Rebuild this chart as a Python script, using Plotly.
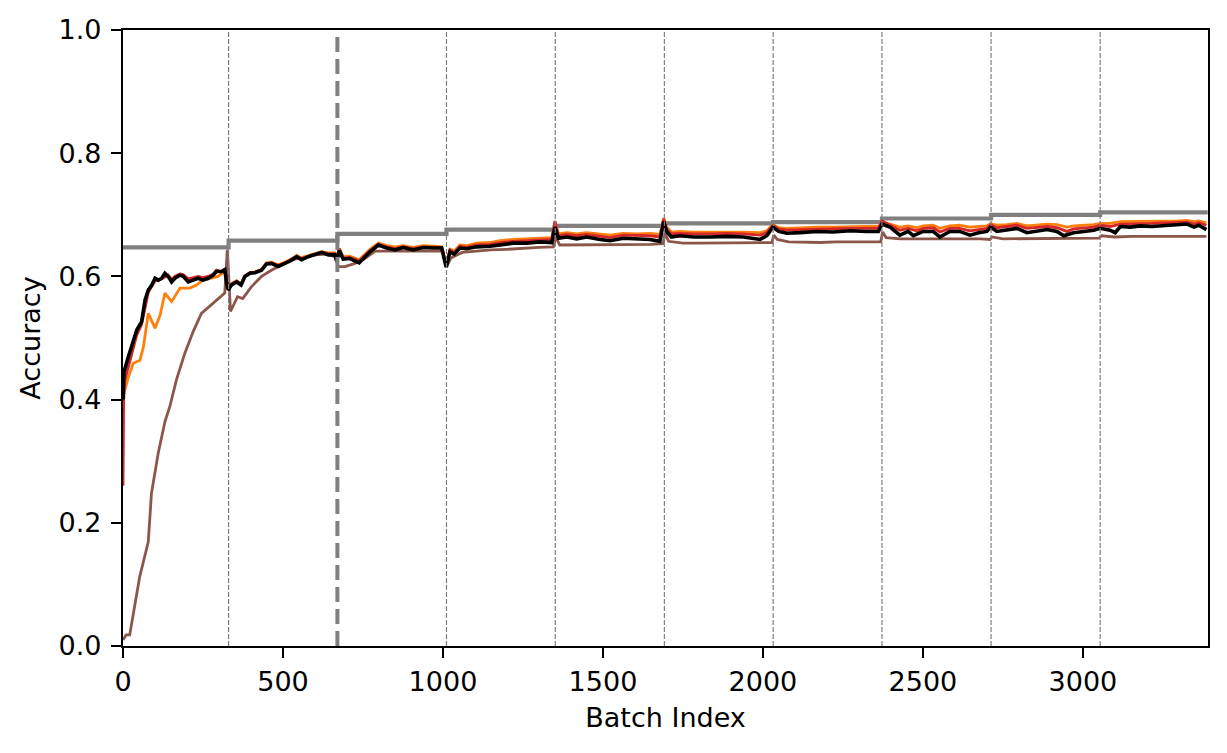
import plotly.graph_objects as go

# ---------------- data ----------------
task_bounds = [330, 670, 1011, 1351, 1692, 2032, 2372, 2713, 3054]
main_bound = 670
step_x = [0, 330, 670, 1011, 1351, 1692, 2032, 2372, 2713, 3054, 3390]
step_y = [0.647, 0.658, 0.669, 0.676, 0.682, 0.686, 0.688, 0.694, 0.700, 0.704, 0.704]

black_x = [0, 3, 17, 32, 43, 58, 69, 79, 90, 100, 110, 121, 131, 141, 152, 162, 178, 188, 204, 219,
           235, 250, 266, 282, 292, 308, 318, 324, 329, 339, 355, 369, 381, 397, 412, 433, 448, 464,
           485, 506, 522, 543, 558, 579, 600, 621, 642, 662, 668, 676, 688, 709, 738, 772, 798, 824,
           850, 876, 907, 938, 970, 996, 1010, 1022, 1035, 1053, 1074, 1105, 1147, 1178, 1220, 1262,
           1303, 1340, 1350, 1361, 1387, 1418, 1449, 1491, 1522, 1564, 1606, 1647, 1678, 1690, 1699,
           1714, 1741, 1783, 1835, 1887, 1939, 1991, 2012, 2031, 2049, 2075, 2116, 2168, 2220, 2272,
           2324, 2361, 2372, 2397, 2428, 2454, 2470, 2501, 2532, 2553, 2584, 2615, 2647, 2674, 2700,
           2712, 2731, 2762, 2794, 2825, 2856, 2888, 2919, 2940, 2971, 3003, 3034, 3054, 3085, 3101,
           3117, 3148, 3180, 3215, 3253, 3295, 3326, 3347, 3362, 3386]
black_y = [0.400, 0.445, 0.470, 0.497, 0.513, 0.526, 0.562, 0.578, 0.586, 0.597, 0.594, 0.597, 0.605,
           0.600, 0.591, 0.597, 0.602, 0.600, 0.591, 0.594, 0.597, 0.594, 0.597, 0.602, 0.608, 0.608,
           0.611, 0.589, 0.578, 0.586, 0.591, 0.586, 0.600, 0.605, 0.606, 0.610, 0.620, 0.621, 0.616,
           0.621, 0.625, 0.632, 0.627, 0.632, 0.635, 0.639, 0.635, 0.635, 0.625, 0.642, 0.628, 0.629,
           0.622, 0.640, 0.651, 0.646, 0.643, 0.647, 0.643, 0.647, 0.646, 0.646, 0.615, 0.640, 0.636,
           0.646, 0.645, 0.648, 0.649, 0.651, 0.654, 0.654, 0.656, 0.655, 0.680, 0.662, 0.664, 0.661,
           0.664, 0.660, 0.658, 0.662, 0.661, 0.660, 0.657, 0.689, 0.673, 0.664, 0.666, 0.664, 0.664,
           0.665, 0.664, 0.660, 0.666, 0.680, 0.673, 0.670, 0.671, 0.673, 0.672, 0.674, 0.673, 0.673,
           0.685, 0.680, 0.667, 0.673, 0.666, 0.673, 0.673, 0.664, 0.673, 0.673, 0.667, 0.671, 0.673,
           0.680, 0.673, 0.676, 0.678, 0.671, 0.673, 0.676, 0.673, 0.666, 0.671, 0.673, 0.675, 0.678,
           0.675, 0.671, 0.681, 0.680, 0.682, 0.681, 0.682, 0.683, 0.685, 0.680, 0.683, 0.676]

red_x = [0, 2, 5, 17, 32, 43, 58, 69, 79, 90, 100, 110, 121, 131, 141, 152, 162, 178, 188, 204, 219,
         235, 250, 266, 282, 292, 308, 318, 324, 329, 339, 355, 369, 381, 397, 412, 433, 448, 464, 485,
         506, 522, 543, 558, 579, 600, 621, 642, 662, 668, 676, 688, 709, 738, 772, 798, 824, 850, 876,
         907, 938, 970, 996, 1010, 1022, 1035, 1053, 1074, 1105, 1147, 1178, 1220, 1262, 1303, 1340,
         1350, 1361, 1387, 1418, 1449, 1491, 1522, 1564, 1606, 1647, 1678, 1690, 1699, 1714, 1741,
         1783, 1835, 1887, 1939, 1991, 2012, 2031, 2049, 2075, 2116, 2168, 2220, 2272, 2324, 2361,
         2372, 2397, 2428, 2454, 2480, 2501, 2532, 2553, 2584, 2615, 2647, 2674, 2700, 2712, 2731,
         2762, 2794, 2825, 2856, 2888, 2919, 2950, 2971, 3003, 3034, 3054, 3085, 3117, 3148, 3180,
         3215, 3253, 3295, 3326, 3347, 3362, 3386]
red_y = [0.260, 0.400, 0.430, 0.455, 0.483, 0.505, 0.522, 0.552, 0.574, 0.584, 0.593, 0.593, 0.596,
         0.600, 0.602, 0.595, 0.600, 0.604, 0.603, 0.596, 0.598, 0.600, 0.598, 0.600, 0.604, 0.610,
         0.607, 0.612, 0.593, 0.582, 0.588, 0.592, 0.588, 0.601, 0.606, 0.607, 0.611, 0.621, 0.622,
         0.618, 0.622, 0.626, 0.632, 0.629, 0.633, 0.636, 0.639, 0.637, 0.637, 0.630, 0.645, 0.630,
         0.631, 0.625, 0.642, 0.652, 0.648, 0.645, 0.648, 0.645, 0.648, 0.648, 0.647, 0.618, 0.643,
         0.639, 0.649, 0.647, 0.651, 0.652, 0.655, 0.657, 0.658, 0.660, 0.660, 0.690, 0.666, 0.668,
         0.666, 0.668, 0.665, 0.663, 0.667, 0.666, 0.666, 0.664, 0.693, 0.677, 0.669, 0.670, 0.669,
         0.669, 0.670, 0.669, 0.667, 0.671, 0.683, 0.677, 0.675, 0.676, 0.677, 0.677, 0.678, 0.678,
         0.678, 0.690, 0.683, 0.675, 0.678, 0.674, 0.678, 0.679, 0.672, 0.678, 0.678, 0.674, 0.676,
         0.678, 0.684, 0.679, 0.681, 0.683, 0.678, 0.679, 0.681, 0.679, 0.673, 0.677, 0.679, 0.680,
         0.683, 0.681, 0.685, 0.685, 0.686, 0.686, 0.687, 0.687, 0.688, 0.685, 0.687, 0.683]

orange_x = [0, 3, 17, 32, 53, 64, 79, 100, 116, 131, 152, 178, 209, 230, 250, 276, 297, 318, 324, 329,
            339, 355, 369, 381, 397, 412, 433, 448, 464, 485, 506, 522, 543, 558, 579, 600, 621, 642,
            662, 668, 676, 688, 709, 738, 772, 798, 824, 850, 876, 907, 938, 970, 996, 1010, 1022,
            1035, 1053, 1074, 1105, 1147, 1178, 1220, 1262, 1303, 1340, 1350, 1361, 1387, 1418, 1449,
            1491, 1522, 1564, 1606, 1647, 1678, 1690, 1699, 1714, 1741, 1783, 1835, 1887, 1939, 1991,
            2012, 2031, 2049, 2075, 2116, 2168, 2220, 2272, 2324, 2361, 2372, 2397, 2428, 2454, 2480,
            2501, 2532, 2553, 2584, 2615, 2647, 2674, 2700, 2712, 2731, 2762, 2794, 2825, 2856, 2888,
            2919, 2950, 2971, 3003, 3034, 3054, 3085, 3117, 3148, 3180, 3215, 3253, 3295, 3326, 3347,
            3362, 3386]
orange_y = [0.380, 0.410, 0.437, 0.459, 0.464, 0.486, 0.540, 0.516, 0.537, 0.573, 0.559, 0.581,
            0.581, 0.586, 0.594, 0.598, 0.600, 0.608, 0.590, 0.580, 0.588, 0.593, 0.588, 0.600,
            0.606, 0.607, 0.611, 0.622, 0.623, 0.619, 0.623, 0.627, 0.634, 0.630, 0.634, 0.637,
            0.640, 0.638, 0.638, 0.628, 0.645, 0.632, 0.633, 0.627, 0.644, 0.654, 0.650, 0.648,
            0.650, 0.647, 0.650, 0.649, 0.648, 0.616, 0.644, 0.641, 0.651, 0.650, 0.654, 0.655,
            0.658, 0.660, 0.661, 0.663, 0.663, 0.688, 0.669, 0.671, 0.669, 0.671, 0.668, 0.667,
            0.670, 0.669, 0.670, 0.668, 0.695, 0.680, 0.672, 0.673, 0.672, 0.672, 0.673, 0.672,
            0.671, 0.674, 0.684, 0.679, 0.678, 0.679, 0.680, 0.680, 0.681, 0.681, 0.681, 0.688,
            0.685, 0.680, 0.682, 0.679, 0.682, 0.683, 0.678, 0.682, 0.683, 0.680, 0.681, 0.682,
            0.686, 0.683, 0.684, 0.686, 0.682, 0.683, 0.685, 0.684, 0.680, 0.682, 0.683, 0.684,
            0.686, 0.686, 0.689, 0.689, 0.690, 0.690, 0.690, 0.690, 0.691, 0.689, 0.690, 0.687]

brown_x = [0, 10, 21, 52, 79, 89, 110, 131, 146, 167, 193, 219, 245, 276, 302, 318, 326, 336, 358,
           374, 401, 433, 464, 495, 537, 600, 640, 662, 673, 694, 725, 756, 788, 830, 870, 920, 970,
           1000, 1011, 1025, 1060, 1100, 1150, 1200, 1250, 1300, 1345, 1352, 1365, 1400, 1450, 1500,
           1550, 1600, 1650, 1688, 1694, 1705, 1750, 1800, 1850, 1900, 1950, 2000, 2028, 2034, 2045,
           2080, 2130, 2180, 2230, 2280, 2330, 2368, 2374, 2385, 2430, 2480, 2530, 2580, 2630, 2680,
           2710, 2716, 2750, 2800, 2850, 2900, 2950, 3000, 3050, 3058, 3100, 3150, 3200, 3250, 3300,
           3350, 3386]
brown_y = [0.010, 0.018, 0.018, 0.112, 0.169, 0.248, 0.313, 0.364, 0.388, 0.432, 0.475, 0.510, 0.540,
           0.554, 0.567, 0.573, 0.643, 0.543, 0.567, 0.564, 0.583, 0.600, 0.610, 0.619, 0.628, 0.635,
           0.636, 0.632, 0.616, 0.616, 0.621, 0.629, 0.641, 0.641, 0.641, 0.640, 0.641, 0.641, 0.615,
           0.630, 0.639, 0.641, 0.643, 0.644, 0.646, 0.647, 0.648, 0.664, 0.651, 0.651, 0.652, 0.652,
           0.651, 0.652, 0.652, 0.653, 0.670, 0.657, 0.654, 0.654, 0.654, 0.654, 0.654, 0.655, 0.655,
           0.667, 0.660, 0.656, 0.655, 0.655, 0.656, 0.656, 0.656, 0.656, 0.672, 0.663, 0.661, 0.661,
           0.662, 0.661, 0.661, 0.661, 0.660, 0.664, 0.661, 0.661, 0.662, 0.662, 0.662, 0.662, 0.662,
           0.666, 0.664, 0.665, 0.665, 0.665, 0.665, 0.665, 0.665]

# ---------------- figure ----------------
fig = go.Figure()

fig.add_trace(go.Scatter(x=step_x, y=step_y, mode="lines", line=dict(color="#808080", width=4.2, shape="hv"),
                         showlegend=False, hoverinfo="skip"))
fig.add_trace(go.Scatter(x=brown_x, y=brown_y, mode="lines", line=dict(color="#8c564b", width=2.8), showlegend=False))
fig.add_trace(go.Scatter(x=orange_x, y=orange_y, mode="lines", line=dict(color="#ff7f0e", width=2.8), showlegend=False))
fig.add_trace(go.Scatter(x=red_x, y=red_y, mode="lines", line=dict(color="#d62728", width=2.8), showlegend=False))
fig.add_trace(go.Scatter(x=black_x, y=black_y, mode="lines", line=dict(color="black", width=3.6), showlegend=False))

for b in task_bounds:
    if b == main_bound:
        fig.add_trace(go.Scatter(x=[b, b], y=[0, 1], mode="lines",
                                 line=dict(color="#808080", width=4, dash="15px,7px"),
                                 showlegend=False, hoverinfo="skip"))
    else:
        fig.add_trace(go.Scatter(x=[b, b], y=[0, 1], mode="lines",
                                 line=dict(color="#808080", width=1.2, dash="5px,2px"),
                                 showlegend=False, hoverinfo="skip"))

font_family = "DejaVu Sans"
axis_common = dict(showline=True, mirror=True, linecolor="black", linewidth=2.2,
                   ticks="outside", ticklen=10, tickwidth=2.2, tickcolor="black",
                   showgrid=False, zeroline=False, automargin=False,
                   tickfont=dict(family=font_family, size=27, color="black"))

# page body has an 8px default margin, so the figure is sized/offset to compensate
fig.update_layout(
    width=1219, height=745,
    margin=dict(l=115, r=19, t=22, b=107),
    paper_bgcolor="white", plot_bgcolor="white",
    font=dict(family=font_family, size=27, color="black"),
    xaxis=dict(range=[0, 3391], tickvals=[0, 500, 1000, 1500, 2000, 2500, 3000],
               title=dict(text="Batch Index", font=dict(family=font_family, size=27, color="black"), standoff=13),
               **axis_common),
    yaxis=dict(range=[0, 1], tickvals=[0, 0.2, 0.4, 0.6, 0.8, 1.0], tickformat=".1f",
               ticklabelstandoff=4,
               title=dict(text="Accuracy", font=dict(family=font_family, size=27, color="black"), standoff=10),
               **axis_common),
)

fig.write_html("out.html")
